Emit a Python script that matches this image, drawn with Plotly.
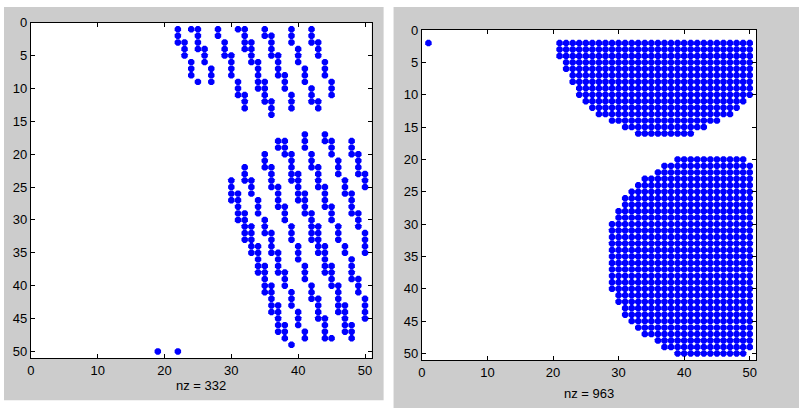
import plotly.graph_objects as go

# left spy plot: runs of nonzeros, one column at a time (col, first row, last row)
left_run_col = [22, 23, 24, 24, 25, 25, 26, 27, 28, 29, 30, 31, 31, 32, 32, 33, 34,
                35, 35, 36, 36, 37, 38, 39, 39, 40, 41, 42, 42, 43, 43, 44, 45,
                19, 22,
                30, 31, 32, 33, 34, 35, 36, 37, 38, 39,
                32, 33, 34, 35, 36, 37, 38, 39, 40, 41,
                35, 36, 37, 38, 39, 40, 41, 42, 43, 44, 45,
                37, 38, 39, 40, 41, 42, 43, 44, 45, 46, 47, 48,
                41, 42, 43, 44, 45, 46, 47, 48, 49, 50,
                44, 45, 46, 47, 48, 49, 50,
                48, 49, 50]
left_run_start = [1, 3, 1, 6, 1, 9, 4, 7, 1, 3, 5, 1, 9, 1, 11, 3, 6,
                  1, 9, 2, 12, 5, 8, 1, 11, 4, 7, 1, 10, 3, 12, 6, 9,
                  50, 50,
                  24, 26, 29, 31, 34, 37, 40, 43, 46, 49,
                  22, 24, 27, 30, 32, 35, 38, 41, 44, 47,
                  20, 22, 25, 28, 31, 34, 37, 40, 42, 45, 48,
                  18, 18, 20, 23, 26, 29, 31, 34, 37, 40, 43, 46,
                  17, 20, 22, 25, 28, 31, 34, 36, 39, 42,
                  17, 18, 21, 24, 26, 29, 32,
                  18, 20, 23]
left_run_end = [3, 5, 1, 8, 4, 9, 6, 9, 2, 5, 8, 1, 11, 4, 13, 6, 10,
                2, 12, 5, 14, 8, 10, 3, 13, 6, 9, 3, 12, 5, 13, 8, 11,
                50, 50,
                27, 30, 33, 35, 38, 41, 44, 47, 48, 49,
                24, 26, 29, 32, 35, 38, 40, 43, 46, 48,
                22, 25, 28, 30, 33, 36, 39, 42, 45, 48, 48,
                19, 20, 24, 27, 29, 33, 35, 38, 40, 44, 47, 48,
                19, 22, 25, 28, 30, 33, 35, 39, 41, 45,
                18, 20, 23, 26, 29, 31, 35,
                20, 23, 25]
left_nz_label = "nz = 332"

# right spy plot: one isolated entry plus filled rows (row, first col, last col)
right_single_row = [2]
right_single_col = [1]
right_rows = [2, 3, 4, 5, 6, 7, 8, 9, 10, 11, 12, 13, 14, 15, 16,
              20, 21, 22, 23, 24, 25, 26, 27, 28, 29, 30, 31, 32, 33, 34, 35,
              36, 37, 38, 39, 40, 41, 42, 43, 44, 45, 46, 47, 48, 49, 50]
right_first_col = [21, 21, 21, 22, 22, 23, 23, 24, 24, 25, 26, 27, 29, 31, 33,
                   39, 37, 36, 34, 33, 32, 31, 31, 30, 30, 29, 29, 29, 29, 29, 29,
                   29, 29, 29, 29, 29, 30, 30, 31, 31, 32, 33, 34, 36, 37, 39]
right_last_col = [50, 50, 50, 50, 50, 50, 50, 50, 50, 49, 48, 47, 45, 43, 41,
                  49, 50, 50, 50, 50, 50, 50, 50, 50, 50, 50, 50, 50, 50, 50, 50,
                  50, 50, 50, 50, 50, 50, 50, 50, 50, 50, 50, 50, 50, 50, 49]
right_nz_label = "nz = 963"

x_ticks = [0, 10, 20, 30, 40, 50]
y_ticks = [0, 5, 10, 15, 20, 25, 30, 35, 40, 45, 50]

W, H = 800, 409
BLUE = "rgb(0,0,255)"
GRAY = "rgb(204,204,204)"
FONT = dict(family="Liberation Sans, Arial, sans-serif", size=13, color="black")

# axes boxes in pixels (left, right, top, bottom)
LEFT_BOX = (27, 370, 16, 358)
RIGHT_BOX = (420.5, 757, 23.5, 360)

# expand runs into points
lx, ly = [], []
for c, r0, r1 in zip(left_run_col, left_run_start, left_run_end):
    for r in range(r0, r1 + 1):
        lx.append(c)
        ly.append(r)

rx, ry = list(right_single_col), list(right_single_row)
for r, c0, c1 in zip(right_rows, right_first_col, right_last_col):
    for c in range(c0, c1 + 1):
        rx.append(c)
        ry.append(r)

marker = dict(symbol="octagon", size=7, color=BLUE, line_width=0)

fig = go.Figure()
fig.add_trace(go.Scatter(x=lx, y=ly, mode="markers", marker=marker,
                         xaxis="x", yaxis="y", hoverinfo="skip"))
fig.add_trace(go.Scatter(x=rx, y=ry, mode="markers", marker=marker,
                         xaxis="x2", yaxis="y2", hoverinfo="skip"))


def x_dom(box):
    return [box[0] / W, box[1] / W]


def y_dom(box):
    return [1 - box[3] / H, 1 - box[2] / H]


def paper_rect(x0, x1, y0, y1, color):
    return dict(type="rect", xref="paper", yref="paper", layer="below",
                x0=x0 / W, x1=x1 / W, y0=1 - y1 / H, y1=1 - y0 / H,
                fillcolor=color, line_width=0)


axis_style = dict(
    showline=True, linecolor="black", linewidth=1, mirror="ticks",
    ticks="inside", ticklen=4, tickcolor="black",
    showgrid=False, zeroline=False, tickfont=FONT,
)

fig.update_layout(
    width=W, height=H,
    margin=dict(l=0, r=0, t=0, b=0),
    paper_bgcolor="white",
    plot_bgcolor="white",
    showlegend=False,
    xaxis=dict(domain=x_dom(LEFT_BOX), range=[0, 51], tickvals=x_ticks,
               anchor="y", **axis_style),
    yaxis=dict(domain=y_dom(LEFT_BOX), range=[51, 0], tickvals=y_ticks,
               anchor="x", **axis_style),
    xaxis2=dict(domain=x_dom(RIGHT_BOX), range=[0, 51], tickvals=x_ticks,
                anchor="y2", **axis_style),
    yaxis2=dict(domain=y_dom(RIGHT_BOX), range=[51, 0], tickvals=y_ticks,
                anchor="x2", **axis_style),
    shapes=[
        # gray figure panels, white axes areas on top of them
        paper_rect(0, 382, 0, 401, GRAY),
        paper_rect(392, W, 0, H, GRAY),
        paper_rect(LEFT_BOX[0], LEFT_BOX[1], LEFT_BOX[2], LEFT_BOX[3], "white"),
        paper_rect(RIGHT_BOX[0], RIGHT_BOX[1], RIGHT_BOX[2], RIGHT_BOX[3], "white"),
    ],
    annotations=[
        dict(text=left_nz_label, xref="paper", yref="paper", showarrow=False,
             x=198.5 / W, y=1 - 386 / H, xanchor="center", yanchor="middle",
             font=FONT),
        dict(text=right_nz_label, xref="paper", yref="paper", showarrow=False,
             x=589 / W, y=1 - 394 / H, xanchor="center", yanchor="middle",
             font=FONT),
    ],
)

fig.write_html("out.html", config={"displayModeBar": False},
               post_script="document.body.style.margin='0';")
